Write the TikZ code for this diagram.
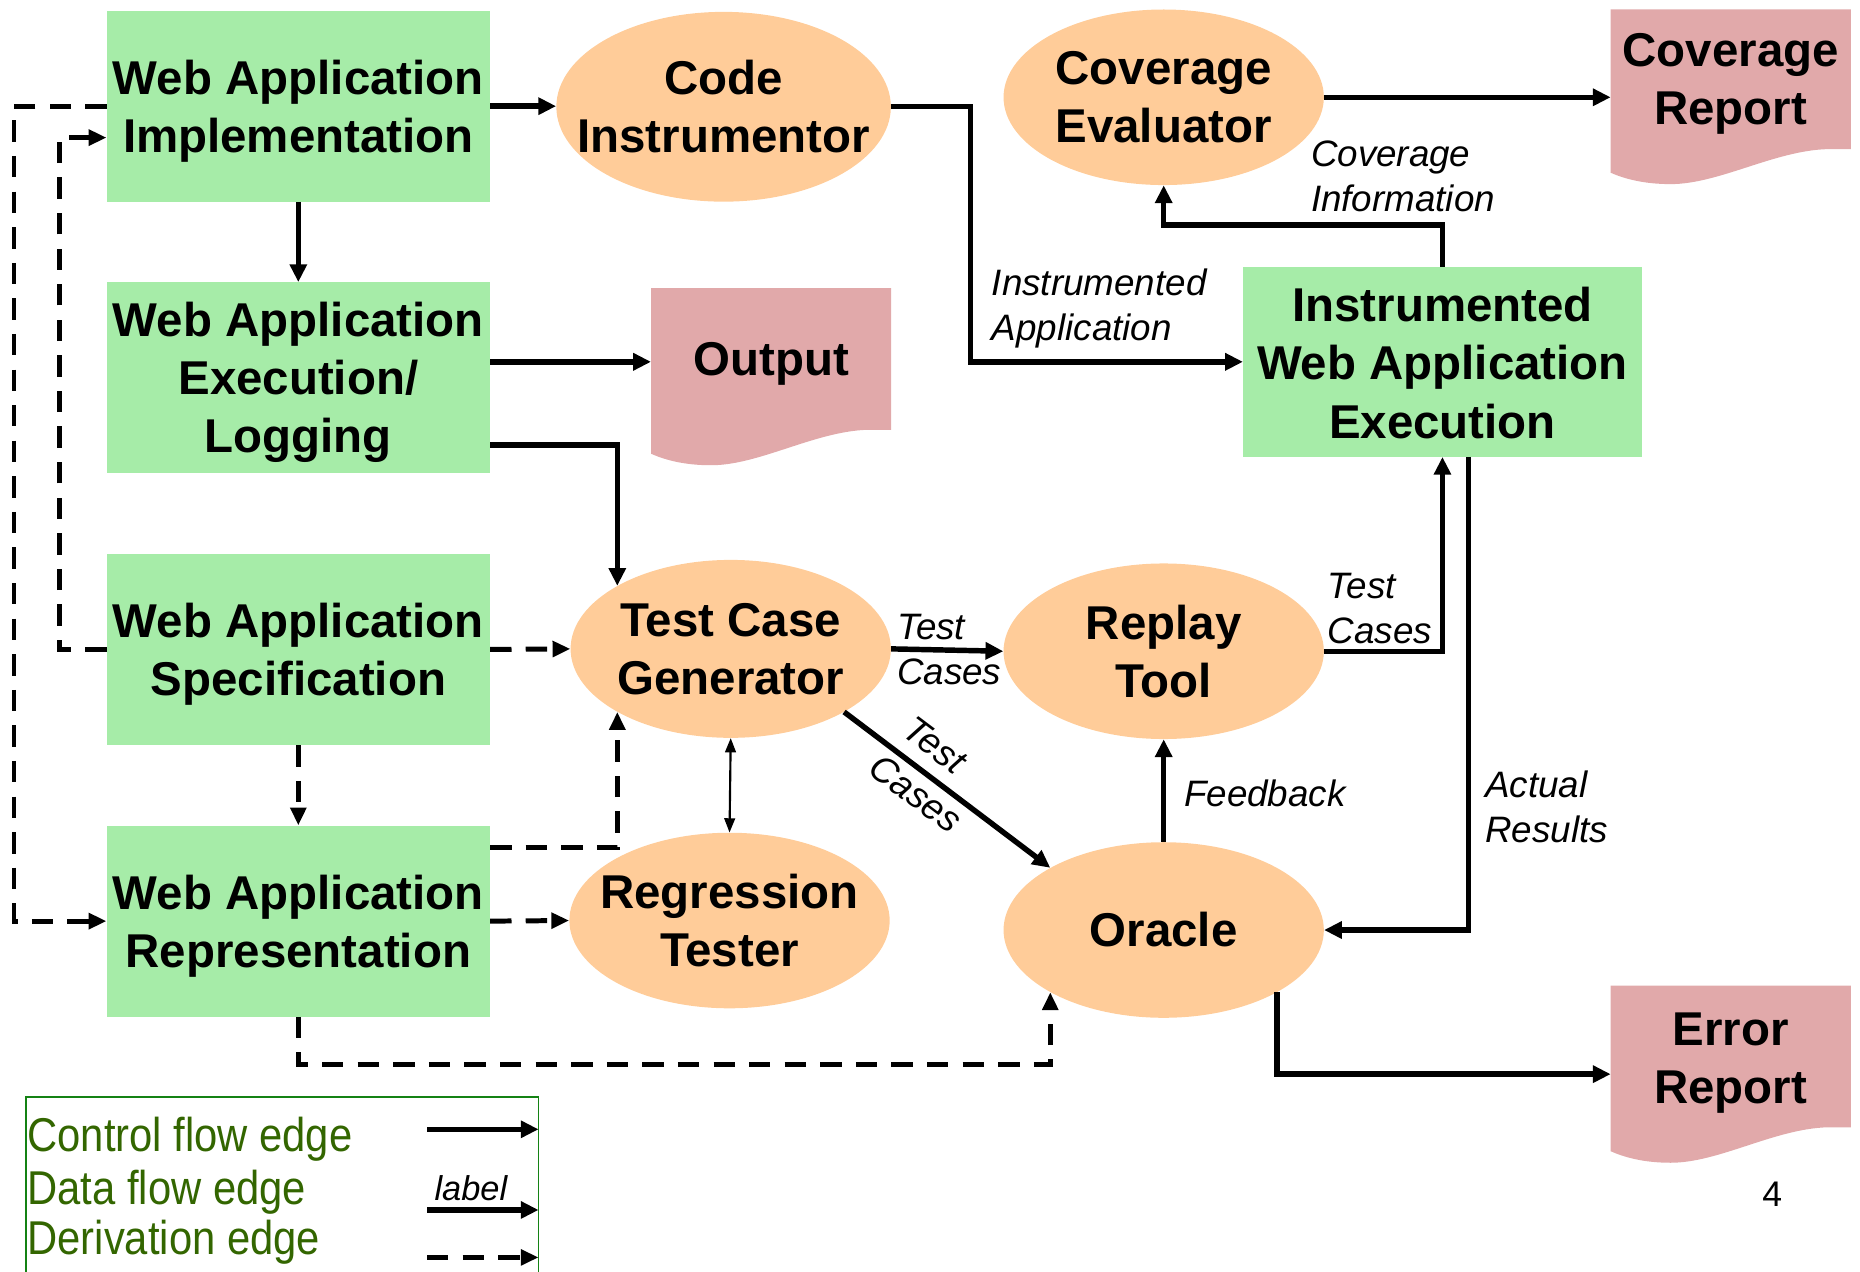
\documentclass[tikz,border=0pt]{standalone}
\usepackage{fontspec}
\setmainfont{Liberation Sans}
\newfontfamily\legfont[FakeStretch=0.88]{Liberation Sans}
\usetikzlibrary{arrows.meta,shapes.geometric,calc}
\definecolor{boxgreen}{RGB}{166,236,168}
\definecolor{peach}{RGB}{255,204,153}
\definecolor{docpink}{RGB}{225,169,170}
\definecolor{legtext}{RGB}{51,102,0}
\definecolor{legborder}{RGB}{20,130,20}
\newcommand\mydocshape[1]{%
  \fill[docpink] let \p1=(#1.north west), \p2=(#1.south east),
    \n1={\x2-\x1}, \n2={\y2-\y1} in
    (\x1,\y1) -- (\x2,\y1) -- (\x2,{\y1+0.8*\n2}) -- ({\x1+0.9*\n1},{\y1+0.8*\n2})
    .. controls ({\x1+0.68*\n1},{\y1+0.81*\n2}) and ({\x1+0.45*\n1},{\y1+1.0*\n2}) .. ({\x1+0.25*\n1},\y2)
    .. controls ({\x1+0.13*\n1},\y2) and ({\x1+0.05*\n1},{\y1+0.965*\n2}) .. (\x1,{\y1+0.935*\n2}) -- cycle;}
\begin{document}
\begin{tikzpicture}[x=1pt,y=-1pt,
  gbox/.style={rectangle, fill=boxgreen, inner sep=0pt, minimum width=323pt, minimum height=161pt},
  oval/.style={ellipse, fill=peach, inner sep=0pt, minimum width=270pt, minimum height=148pt},
  ntext/.style={align=center, inner sep=0pt, font=\bfseries\fontsize{40}{49}\selectfont},
  docnode/.style={rectangle, inner sep=0pt, minimum width=202pt, minimum height=149pt},
  lbl/.style={align=left, inner sep=0pt, anchor=west, font=\itshape\fontsize{31}{38}\selectfont},
  legtxt/.style={anchor=west, inner sep=0pt, text=legtext, font=\legfont\fontsize{40}{45}\selectfont},
  flow/.style={line width=4.6pt, -{Triangle[length=15pt,width=14pt]}},
  deriv/.style={line width=4.2pt, -{Triangle[length=15pt,width=13pt]}, dash pattern=on 18pt off 12pt},
  thinflow/.style={line width=1.8pt, {Triangle[length=12pt,width=9pt]}-{Triangle[length=12pt,width=9pt]}}
]
\useasboundingbox (0,0) rectangle (1568,1072);

% green boxes
\node[gbox] (wai) at (251.5,89.5) {};
\node[ntext, yshift=-4pt] at (wai) {Web Application\\Implementation};
\node[gbox] (wae) at (251.5,318.5) {};
\node[ntext, yshift=-4pt] at (wae) {Web Application\\Execution/\\Logging};
\node[gbox] (was) at (251.5,547.5) {};
\node[ntext, yshift=-4pt] at (was) {Web Application\\Specification};
\node[gbox] (war) at (251.5,776.5) {};
\node[ntext, yshift=-4pt] at (war) {Web Application\\Representation};
\node[gbox, minimum width=336pt, minimum height=160pt] (iwae) at (1216,305) {};
\node[ntext, yshift=-1pt] at (iwae) {Instrumented\\Web Application\\Execution};

% ellipses
\node[oval, minimum width=282pt, minimum height=160pt] (ci) at (610,90) {};
\node[ntext] at (ci) {Code\\Instrumentor};
\node[oval] (ce) at (981,82) {};
\node[ntext] at (ce) {Coverage\\Evaluator};
\node[oval, minimum height=150pt] (tcg) at (616,547) {};
\node[ntext] at (tcg) {Test Case\\Generator};
\node[oval] (rt) at (981,549) {};
\node[ntext] at (rt) {Replay\\Tool};
\node[oval] (rgt) at (615,776) {};
\node[ntext] at (rgt) {Regression\\Tester};
\node[oval] (or) at (981,784) {};
\node[ntext] at (or) {Oracle};

% documents
\node[docnode, minimum height=147pt] (cr) at (1459,81.5) {};
\mydocshape{cr}
\node[ntext] at (1459,71) {Coverage\\Report};
\node[docnode] (out) at (650,317.5) {};
\mydocshape{out}
\node[ntext] at (650,307) {Output};
\node[docnode] (er) at (1459,905.5) {};
\mydocshape{er}
\node[ntext] at (1459,896) {Error\\Report};

% control / data flow edges
\draw[flow] (wai.east) -- (wai.east -| ci.west);
\draw[flow] (wai.south) -- (wae.north);
\draw[flow] (ci.east) -- ++(67,0) |- (iwae.west);
\draw[flow] ([yshift=13.5pt]wae.east) -- ([yshift=13.5pt]wae.east -| out.west);
\draw[flow] ([yshift=-56.5pt]wae.east) -| (tcg.north west);
\draw[flow] (iwae.north) -- ++(0,-35) -| (ce.south);
\draw[flow] (ce.east) -- (ce.east -| cr.west);
\draw[flow] (tcg.east) -- (rt.west);
\draw[flow] (rt.east) -| (iwae.south);
\draw[flow] ([xshift=22pt]iwae.south) |- (or.east);
\draw[flow] (or.north) -- (rt.south);
\draw[flow] (tcg.south east) -- (or.north west);
\draw[thinflow] (tcg.south) -- (rgt.north);
\draw[flow] (or.south east) |- (er.west);

% derivation edges
\draw[deriv] (wai.west) -- ++(-78,0) |- (war.west);
\draw[deriv] (was.west) -- ++(-40,0) |- ([yshift=-26.5pt]wai.west);
\draw[deriv] (was.east) -- (tcg.west);
\draw[deriv] (was.south) -- (war.north);
\draw[deriv] ([yshift=-19pt]war.north east) -| (tcg.south west);
\draw[deriv] (war.east) -- (rgt.west);
\draw[deriv] (war.south) -- ++(0,40) -| (or.south west);

% edge labels
\node[lbl] (l1) at (836,260) {Instrumented\\Application};
\node[lbl] (l2) at (1105,149) {Coverage\\Information};
\node[lbl] (l3) at (756,547.5) {Test\\Cases};
\node[lbl] (l4) at (1119,513) {Test\\Cases};
\node[lbl] (l5) at (1252,680) {Actual\\Results};
\node[lbl] (l6) at (998,669) {Feedback};
\node[lbl, anchor=center, rotate=-37] (l7) at (788,628) {Test};
\node[lbl, anchor=center, rotate=-37] (l8) at (772,669) {Cases};

% legend
\draw[legborder, line width=1.5pt] (22,1085) -- (22,925) -- (454,925) -- (454,1085);
\node[legtxt] (t1) at (23,960) {Control flow edge};
\node[legtxt] (t2) at (23,1005) {Data flow edge};
\node[legtxt] (t3) at (23,1047) {Derivation edge};
\coordinate (a1) at (360,952);
\coordinate (b1) at (454,952);
\coordinate (a2) at (360,1020);
\coordinate (b2) at (454,1020);
\coordinate (a3) at (360,1060);
\coordinate (b3) at (454,1060);
\draw[flow] (a1) -- (b1);
\draw[flow] (a2) -- (b2);
\draw[deriv] (a3) -- (b3);
\node[inner sep=0pt, font=\itshape\fontsize{29}{34}\selectfont] (lab) at (397,1002) {label};

\node[inner sep=0pt, font=\fontsize{30}{36}\selectfont] (pg) at (1494,1007) {4};
\end{tikzpicture}
\end{document}
